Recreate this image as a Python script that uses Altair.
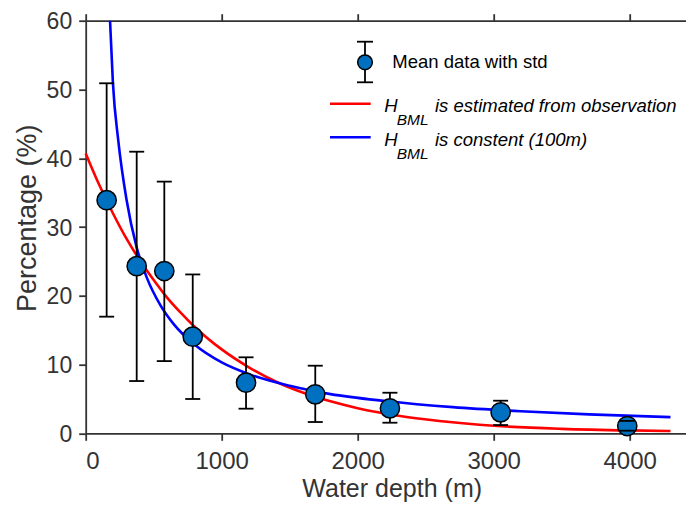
import altair as alt
import pandas as pd

# ---- data ----
depth = [154, 375, 578, 787, 1179, 1688, 2237, 3051, 3982]
mean_pct = [33.9, 24.3, 23.6, 14.05, 7.36, 5.67, 3.63, 3.05, 1.06]
std_hi = [50.9, 40.95, 36.6, 23.1, 11.05, 9.83, 5.9, 4.74, 1.8]
std_lo = [16.96, 7.6, 10.5, 4.99, 3.58, 1.64, 1.54, 1.2, 0.38]

red_x = [0, 100, 200, 300, 400, 500, 600, 700, 800, 1000, 1200, 1400, 1600,
         1800, 2000, 2300, 2600, 3000, 3500, 4000, 4300]
red_y = [40.7, 36.1, 32.0, 28.3, 25.1, 22.3, 19.7, 17.5, 15.5, 12.2, 9.6, 7.5,
         5.9, 4.65, 3.65, 2.55, 1.8, 1.1, 0.65, 0.42, 0.34]

blue_x = [179, 200, 240, 300, 375, 450, 550, 650, 800, 1000, 1200, 1500, 1800,
          2200, 2700, 3200, 3700, 4300]
blue_y = [60, 51, 42.5, 34, 27, 22.6, 18.6, 15.8, 12.9, 10.3, 8.6, 6.9, 5.7,
          4.7, 3.8, 3.2, 2.75, 2.35]

x_ticks = [0, 1000, 2000, 3000, 4000]
y_ticks = [0, 10, 20, 30, 40, 50, 60]

x_title = "Water depth (m)"
y_title = "Percentage (%)"
leg_mean = "Mean data with std"
leg_h = "H"
leg_sub = "BML"
leg_red = "is estimated from observation"
leg_blue = "is constent (100m)"

FONT = "Liberation Sans"
AX = "#333333"
PT_FILL = "#0070C0"

pts = pd.DataFrame({"depth": depth, "mean": mean_pct, "hi": std_hi, "lo": std_lo})
red = pd.DataFrame({"x": red_x, "y": red_y})
blue = pd.DataFrame({"x": blue_x, "y": blue_y})

# plot area: 600.3 px wide for 0..4414 m (136 px per 1000 m)
xs = alt.Scale(domain=[0, 4414], nice=False, zero=False)
ys = alt.Scale(domain=[0, 60], nice=False)

bottom_axis = alt.Axis(values=x_ticks, orient="bottom", title=x_title, format="d",
                       labelPadding=9, titleBaseline="top", titleY=43,
                       titleX=306)
top_axis = alt.Axis(values=x_ticks, orient="top", labels=False, title=None)
left_axis = alt.Axis(values=y_ticks, title=y_title, labelPadding=7, format="d",
                     labelFontSize=23, labelOffset=1,
                     titleBaseline="top", titleX=-71, titleY=197,
                     titleFontSize=27)


def Y(field):
    return alt.Y(field, scale=ys, axis=left_axis, title=y_title)


red_line = alt.Chart(red).mark_line(color="#FF0000", strokeWidth=2.6,
                                    interpolate="monotone").encode(
    x=alt.X("x:Q", scale=xs, axis=bottom_axis),
    y=Y("y:Q"),
)
blue_line = alt.Chart(blue).mark_line(color="#0000FF", strokeWidth=2.6,
                                      interpolate="monotone").encode(
    x=alt.X("x:Q", scale=xs, axis=top_axis),
    y=Y("y:Q"),
)
err = alt.Chart(pts).mark_rule(color="black", strokeWidth=1.8).encode(
    x=alt.X("depth:Q", scale=xs, axis=None),
    y=Y("lo:Q"),
    y2="hi:Q",
)
dots = alt.Chart(pts).mark_circle(size=370, color=PT_FILL, opacity=1,
                                  stroke="black", strokeWidth=1.5).encode(
    x=alt.X("depth:Q", scale=xs, axis=None),
    y=Y("mean:Q"),
)
cap_hi = alt.Chart(pts).mark_tick(orient="horizontal", size=15, thickness=1.8,
                                  color="black", opacity=1).encode(
    x=alt.X("depth:Q", scale=xs, axis=None),
    y=Y("hi:Q"),
)
cap_lo = alt.Chart(pts).mark_tick(orient="horizontal", size=15, thickness=1.8,
                                  color="black", opacity=1).encode(
    x=alt.X("depth:Q", scale=xs, axis=None),
    y=Y("lo:Q"),
)

# ---- hand-built legend (pixel positions inside the plot area) ----
one = pd.DataFrame({"k": [0]})
lx, ly_top, ly_bot, ly_mid = 279.3, 21.0, 61.6, 41.6
leg_err = alt.Chart(one).mark_rule(color="black", strokeWidth=1.8).encode(
    x=alt.value(lx), y=alt.value(ly_top), y2=alt.value(ly_bot))
leg_dot = alt.Chart(one).mark_circle(size=215, color=PT_FILL, opacity=1,
                                     stroke="black", strokeWidth=1.5).encode(
    x=alt.value(lx), y=alt.value(ly_mid))
leg_cap1 = alt.Chart(one).mark_rule(color="black", strokeWidth=1.8).encode(
    x=alt.value(lx - 8), x2=alt.value(lx + 8), y=alt.value(ly_top))
leg_cap2 = alt.Chart(one).mark_rule(color="black", strokeWidth=1.8).encode(
    x=alt.value(lx - 8), x2=alt.value(lx + 8), y=alt.value(ly_bot))


def txt(s, x, y, size, italic=False, baseline="alphabetic"):
    return alt.Chart(pd.DataFrame({"t": [s]})).mark_text(
        align="left", baseline=baseline, font=FONT, fontSize=size,
        fontStyle="italic" if italic else "normal", color="black").encode(
        text="t:N", x=alt.value(x), y=alt.value(y))


leg_items = [
    leg_err, leg_dot, leg_cap1, leg_cap2,
    txt(leg_mean, 306.6, 41.3, 18.5, baseline="middle"),
]
for col, ly, label in [("#FF0000", 83.0, leg_red), ("#0000FF", 116.6, leg_blue)]:
    base = ly + 8.6
    leg_items += [
        alt.Chart(one).mark_rule(color=col, strokeWidth=2.6).encode(
            x=alt.value(244.3), x2=alt.value(285.0), y=alt.value(ly)),
        txt(leg_h, 298.6, base, 18.5, italic=True),
        txt(leg_sub, 311.0, base + 13, 15.5, italic=True),
        txt(label, 349.3, base, 18.5, italic=True),
    ]

chart = alt.layer(
    red_line, blue_line, err, dots, cap_hi, cap_lo, *leg_items
).resolve_axis(x="independent").properties(
    width=600.3, height=412.6, autosize="none",
    padding={"left": 77.7, "top": 12.7, "right": 0, "bottom": 71.7},
).configure_view(stroke=None).configure_axis(
    grid=False, domainColor=AX, domainWidth=1.8, tickColor=AX, tickWidth=1.8,
    tickSize=7, labelFont=FONT, labelFontSize=24, labelColor=AX,
    titleFont=FONT, titleFontSize=25, titleFontWeight="normal", titleColor=AX,
)

chart.save("out.html", embed_options={"renderer": "svg", "actions": False})
